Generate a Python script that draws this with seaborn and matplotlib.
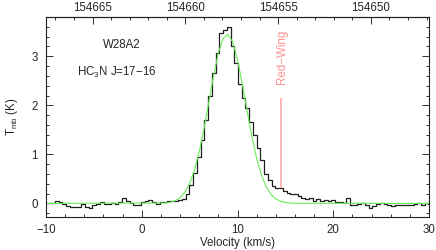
import numpy as np
import pandas as pd
import seaborn as sns
import matplotlib
matplotlib.use("Agg")
import matplotlib.pyplot as plt
from matplotlib.ticker import MultipleLocator, FixedLocator, FormatStrFormatter

# --- data (W28A2, HC3N J=17-16) ---
chan_start = -10.23   # left edge of first channel (km/s)
chan_width = 0.39     # channel width (km/s)

# observed brightness per channel (K)
tmb = [0.00, 0.00, 0.00, 0.05, 0.03, -0.02, -0.06, -0.07, -0.08, -0.08,
       -0.02, -0.07, -0.10, -0.04, -0.01, 0.03, -0.02, -0.01, 0.01, -0.01,
       0.02, 0.12, 0.04, 0.00, -0.03, -0.03, 0.02, 0.05, 0.07, 0.03,
       -0.01, 0.02, 0.02, 0.05, 0.05, 0.05, 0.08, 0.10, 0.20, 0.38,
       0.62, 0.95, 1.30, 1.70, 2.18, 2.65, 3.06, 3.47, 3.54, 3.60,
       3.20, 2.86, 2.43, 2.14, 1.94, 1.67, 1.40, 1.12, 0.88, 0.60,
       0.48, 0.36, 0.31, 0.31, 0.26, 0.22, 0.19, 0.20, 0.15, 0.12,
       0.09, 0.12, 0.06, 0.10, 0.06, 0.08, 0.04, 0.07, 0.03, 0.02,
       0.01, 0.11, -0.03, -0.03, -0.02, 0.01, -0.03, -0.10, -0.05, -0.01,
       0.01, -0.01, -0.03, -0.05, -0.03, -0.03, -0.04, -0.04, -0.04, -0.01,
       0.00, -0.03, 0.00, -0.02]

# gaussian fit curve (green)
fit_v = [-10, 2.5, 3.0, 3.5, 4.0, 4.5, 5.0, 5.5, 6.0, 6.5, 7.0, 7.5, 8.0,
         8.5, 9.0, 9.5, 10.0, 10.5, 11.0, 11.5, 12.0, 12.5, 13.0, 13.5,
         14.0, 14.5, 15.0, 15.5, 16.0, 30]
fit_t = [0.0, 0.01, 0.026, 0.057, 0.118, 0.227, 0.405, 0.676, 1.052, 1.525,
         2.064, 2.605, 3.066, 3.366, 3.447, 3.292, 2.932, 2.436, 1.888,
         1.364, 0.920, 0.578, 0.339, 0.185, 0.094, 0.045, 0.020, 0.008,
         0.003, 0.0]

# top axis tick labels (MHz)
freq_ticks = [154665, 154660, 154655, 154650]

# red wing marker
wing_v = 14.56
wing_lo = 0.31
wing_hi = 2.15

# frequency axis (MHz) <-> velocity (km/s)
f_ref = 154660.0
v_ref = 4.55
kms_per_mhz = 1.938

v_chan = chan_start + chan_width * (np.arange(len(tmb)) + 0.5)
df = pd.DataFrame({"v": v_chan, "T": tmb})
df_fit = pd.DataFrame({"v": fit_v, "T": fit_t})

sns.set_style("ticks")
plt.rcParams["font.family"] = ["Liberation Sans", "DejaVu Sans"]
plt.rcParams["mathtext.fontset"] = "custom"
plt.rcParams["mathtext.rm"] = "Liberation Sans"
plt.rcParams["mathtext.it"] = "Liberation Sans"

fs = 8.3

fig = plt.figure(figsize=(4.36, 2.5), dpi=100)
ax = fig.add_axes([0.1055, 0.1332, 0.8785, 0.7988])

sns.lineplot(data=df, x="v", y="T", drawstyle="steps-mid", estimator=None,
             color="#202020", lw=0.9, ax=ax)
sns.lineplot(data=df_fit, x="v", y="T", estimator=None,
             color="#66ee55", lw=0.8, ax=ax)
ax.vlines(wing_v, wing_lo, wing_hi, color="#ffaaaa", lw=1.2)
ax.text(wing_v + 0.05, 2.98, "Red\u2212Wing", rotation=90, color="#ff9090",
        fontsize=fs, ha="center", va="center")

ax.text(-2.12, 3.23, "W28A2", fontsize=fs, ha="center", va="center")
ax.text(-6.8, 2.66, "HC$_3$N J=17\u221216", fontsize=fs, ha="left", va="center")

ax.set_xlim(-10, 30)
ax.set_ylim(-0.27, 3.80)
ax.set_xlabel("Velocity (km/s)", fontsize=fs, labelpad=1)
ax.set_ylabel("T$_{\\rm mb}$ (K)", fontsize=fs, labelpad=8)

ax.xaxis.set_major_locator(MultipleLocator(10))
ax.xaxis.set_minor_locator(MultipleLocator(2))
ax.yaxis.set_major_locator(MultipleLocator(1))
ax.yaxis.set_minor_locator(MultipleLocator(0.2))
ax.tick_params(which="both", direction="in", right=True, top=False,
               labelsize=fs, width=0.7, color="#333333")
ax.tick_params(which="major", length=5)
ax.tick_params(which="minor", length=2.5)
ax.tick_params(axis="x", pad=5)
ax.tick_params(axis="y", pad=6)

secax = ax.secondary_xaxis(
    "top",
    functions=(lambda v: f_ref - (v - v_ref) / kms_per_mhz,
               lambda f: v_ref + (f_ref - f) * kms_per_mhz))
secax.xaxis.set_major_locator(FixedLocator(freq_ticks))
secax.xaxis.set_minor_locator(MultipleLocator(1))
secax.xaxis.set_major_formatter(FormatStrFormatter("%d"))
secax.tick_params(which="both", direction="in", labelsize=fs, width=0.7,
                  color="#333333", pad=2)
secax.tick_params(which="major", length=5)
secax.tick_params(which="minor", length=2.5)

for sp in ax.spines.values():
    sp.set_linewidth(0.8)
    sp.set_color("#222222")
secax.spines["top"].set_linewidth(0.8)

fig.savefig("out.png", dpi=100)
